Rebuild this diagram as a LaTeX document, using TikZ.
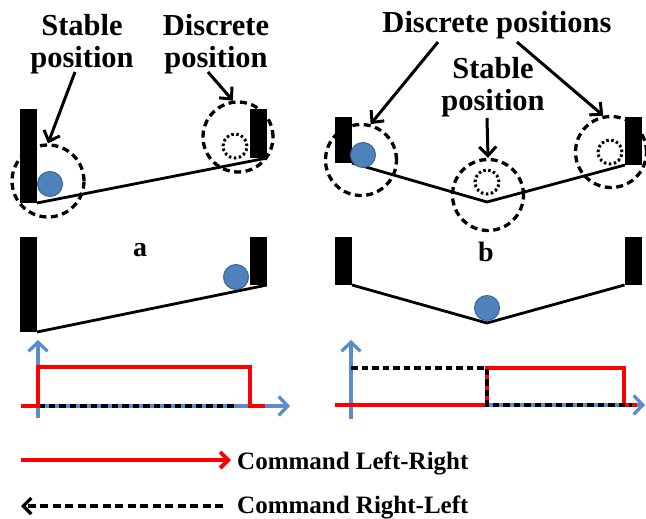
\documentclass[tikz,border=0pt]{standalone}
\usepackage{fontspec}
\setmainfont{Liberation Serif}
\usetikzlibrary{arrows.meta}
\definecolor{ballblue}{HTML}{4F81BD}
\definecolor{balledge}{HTML}{3C6696}
\definecolor{axisblue}{HTML}{5B8CCB}
\begin{document}
\begin{tikzpicture}[x=1pt,y=-1pt,
  wall/.style={fill=black, inner sep=0pt, outer sep=0pt, minimum width=17pt},
  ball/.style={circle, fill=ballblue, draw=balledge, line width=1pt, minimum size=25pt, inner sep=0pt},
  zone/.style={circle, draw=black, dash pattern=on 7pt off 4.5pt, line width=3.3pt, minimum size=72pt, inner sep=0pt},
  ghost/.style={circle, draw=black, dash pattern=on 2.5pt off 2.5pt, line width=3pt, minimum size=24pt, inner sep=0pt},
  lbl/.style={font=\fontsize{30.5}{32}\selectfont\bfseries, align=center, inner sep=0pt},
  tag/.style={font=\fontsize{28}{30}\selectfont\bfseries, inner sep=0pt},
  leg/.style={font=\fontsize{25}{28}\selectfont\bfseries, inner sep=0pt},
  ptr/.style={line width=3pt, -{Straight Barb[length=9pt,width=17pt]}},
  incline/.style={line width=2.8pt},
  axis/.style={axisblue, line width=3.3pt, -{Straight Barb[length=9pt,width=19pt]}},
  cmdlr/.style={red, line width=3.9pt},
  cmdrl/.style={black, line width=3.2pt, dash pattern=on 6.5pt off 4pt},
  legdash/.style={black, line width=3.3pt, dash pattern=on 8pt off 4.5pt},
]
\useasboundingbox (0,0) rectangle (646,519);

% ---------- top left ----------
\node[wall, minimum height=94pt] (wA1) at (28.5,156) {};
\node[wall, minimum height=49pt] (wA2) at (258.5,133.5) {};
\draw[incline] (wA1.south east) -- (wA2.south east);
\node[ghost] (gA2) at (235,146) {};
\node[ball] (bA1) at (50,184) {};
\node[zone] (zA1) at (48,181) {};
\node[zone, minimum size=70pt] (zA2) at (238,137) {};
\node[lbl, anchor=north] (lSA) at (82,14) {Stable\\position};
\node[lbl, anchor=north] (lDA) at (216,14) {Discrete\\position};
\coordinate (pA1) at (75,72);
\coordinate (pA2) at (208,72);
\draw[ptr] (pA1) -- (zA1.north);
\draw[ptr] (pA2) -- (zA2.98);

% ---------- top right ----------
\node[wall, minimum height=46pt] (wB1) at (343.5,140) {};
\node[wall, minimum height=48pt] (wB2) at (633.5,141) {};
\coordinate (vB) at (487,202);
\draw[incline] (wB1.south east) -- (vB) -- (wB2.south west);
\node[ball] (bB1) at (363,155) {};
\node[ghost] (gB2) at (487,182) {};
\node[ghost] (gB3) at (610,152) {};
\node[zone, minimum size=71pt] (zB1) at (361,160) {};
\node[zone, minimum size=71pt] (zB2) at (488,195) {};
\node[zone, minimum size=71pt] (zB3) at (611,152) {};
\node[lbl, anchor=north] (lDB) at (497,11) {Discrete positions};
\node[lbl, anchor=north] (lSB) at (493,57) {Stable\\position};
\coordinate (pB1) at (438,42);
\coordinate (pB3) at (517,42);
\coordinate (pB2) at (487,118);
\draw[ptr] (pB1) -- (zB1.75);
\draw[ptr] (pB3) -- (zB3.102);
\draw[ptr] (pB2) -- (zB2.north);

% ---------- middle left ----------
\node[wall, minimum height=95pt] (wC1) at (28.5,284.5) {};
\node[wall, minimum height=48pt] (wC2) at (258.5,261) {};
\draw[incline] (wC1.south east) -- (wC2.south east);
\node[ball] (bC) at (236,277) {};
\node[tag] (ta) at (140,250) {a};

% ---------- middle right ----------
\node[wall, minimum height=48pt] (wD1) at (343.5,261) {};
\node[wall, minimum height=48pt] (wD2) at (633,261) {};
\coordinate (vD) at (487,323);
\draw[incline] (wD1.south east) -- (vD) -- (wD2.south west);
\node[ball] (bD) at (487,308) {};
\node[tag] (tb) at (486,252) {b};

% ---------- graph left ----------
\draw[axis] (38,418) -- (38,340);
\draw[axis] (21,406) -- (290,406);
\draw[cmdrl] (38,406) -- (237,406);
\draw[cmdlr] (21,406) -- (38,406) -- (38,367) -- (250,367) -- (250,406) -- (265,406);

% ---------- graph right ----------
\draw[axis] (351,419) -- (351,340);
\draw[axis] (335,405) -- (645,405);
\draw[cmdlr] (335,405) -- (487,405) -- (487,368) -- (624,368) -- (624,405) -- (637,405);
\draw[cmdrl] (351,368) -- (487,368) -- (487,405) -- (632,405);

% ---------- legend ----------
\coordinate (lr0) at (21,460);
\coordinate (lr1) at (231,460);
\draw[cmdlr, -{Straight Barb[length=8pt,width=16pt]}] (lr0) -- (lr1);
\node[leg, anchor=base west] (tLR) at (237,469) {Command Left-Right};
\coordinate (rl0) at (223,506);
\coordinate (rl1) at (21,506);
\draw[legdash, -{Straight Barb[length=8pt,width=16pt]}] (rl0) -- (rl1);
\node[leg, anchor=base west] (tRL) at (237,513) {Command Right-Left};
\end{tikzpicture}
\end{document}
